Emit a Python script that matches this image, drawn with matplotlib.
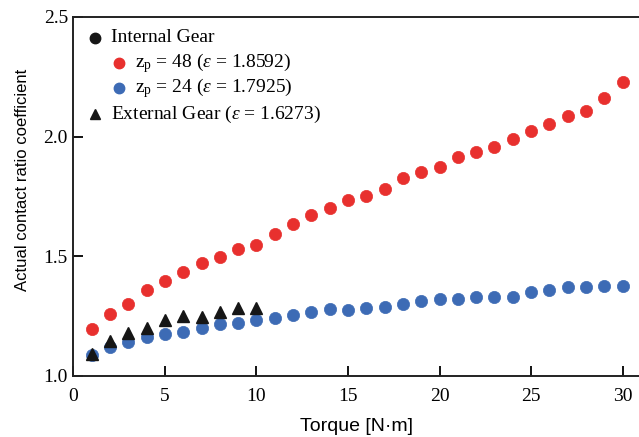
import matplotlib
matplotlib.use("Agg")
from matplotlib import pyplot as plt
import numpy as np

plt.rcParams["mathtext.fontset"] = "custom"
plt.rcParams["mathtext.rm"] = "Liberation Serif"
plt.rcParams["mathtext.it"] = "Liberation Serif:italic"

torque = np.arange(1, 31)
z48 = [1.195, 1.258, 1.301, 1.358, 1.397, 1.433, 1.474, 1.496, 1.529, 1.549,
       1.592, 1.635, 1.673, 1.700, 1.735, 1.753, 1.783, 1.829, 1.852, 1.872,
       1.916, 1.936, 1.957, 1.992, 2.023, 2.054, 2.087, 2.107, 2.162, 2.227]
z24 = [1.088, 1.123, 1.143, 1.164, 1.175, 1.182, 1.202, 1.217, 1.221, 1.234,
       1.241, 1.256, 1.266, 1.279, 1.277, 1.285, 1.288, 1.302, 1.315, 1.322,
       1.322, 1.329, 1.331, 1.331, 1.351, 1.361, 1.371, 1.372, 1.376, 1.376]
torque_ext = np.arange(1, 11)
external = [1.092, 1.146, 1.180, 1.199, 1.234, 1.251, 1.248, 1.266, 1.284, 1.283]

red = '#E8302E'
blue = '#3D6BB5'
black = '#161616'
serif = 'Liberation Serif'
sans = 'Liberation Sans'

fig = plt.figure(figsize=(6.39, 4.37), dpi=100)
ax = fig.add_axes([0.1150, 0.1396, 0.8850, 0.8215])

ax.plot(torque, z48, 'o', color=red, ms=8.8, mec=red, mew=0.5, zorder=3)
ax.plot(torque, z24, 'o', color=blue, ms=8.8, mec=blue, mew=0.5, zorder=3)
ax.plot(torque_ext, external, '^', color=black, ms=9, mec=black, zorder=4)

ax.set_xlim(0, 30.9)
ax.set_ylim(1.0, 2.5)
ax.set_xticks([0, 5, 10, 15, 20, 25, 30])
ax.set_yticks([1.0, 1.5, 2.0, 2.5])
ax.set_yticklabels(['1.0', '1.5', '2.0', '2.5'])
ax.tick_params(direction='in', length=7, width=1.3, labelsize=14)
ax.tick_params(axis='x', pad=9)
ax.tick_params(axis='y', pad=4)
for lab in ax.get_xticklabels() + ax.get_yticklabels():
    lab.set_family(serif)
for s in ['left', 'bottom', 'top']:
    ax.spines[s].set_linewidth(1.4)
    ax.spines[s].set_color('#222222')
ax.spines['right'].set_visible(False)

ax.set_xlabel('Torque [N\u00b7m]', family=sans, fontsize=14, labelpad=9)
ax.set_ylabel('Actual contact ratio coefficient', family=sans, fontsize=12)
ax.yaxis.set_label_coords(-0.077, 0.546)

# legend drawn by hand (indented sub-entries)
tr = ax.transAxes
def axx(px):
    return (px - 73.5) / 565.5
def axy(py):
    return (376 - py) / 359.0

entries = [
    (95, 38, 'o', black, 'Internal Gear'),
    (119, 63, 'o', red, r'z$_\mathrm{p}$ = 48 ($\varepsilon$ = 1.8592)'),
    (119, 88, 'o', blue, r'z$_\mathrm{p}$ = 24 ($\varepsilon$ = 1.7925)'),
    (95, 114, '^', black, r'External Gear ($\varepsilon$ = 1.6273)'),
]
for px, py, m, c, txt in entries:
    ax.plot([axx(px)], [axy(py)], m, color=c, ms=7.5, transform=tr, clip_on=False)
    ax.text(axx(px + 16), axy(py), txt, transform=tr, family=serif,
            fontsize=14, va='center', ha='left')

fig.savefig('out.png', dpi=100)
